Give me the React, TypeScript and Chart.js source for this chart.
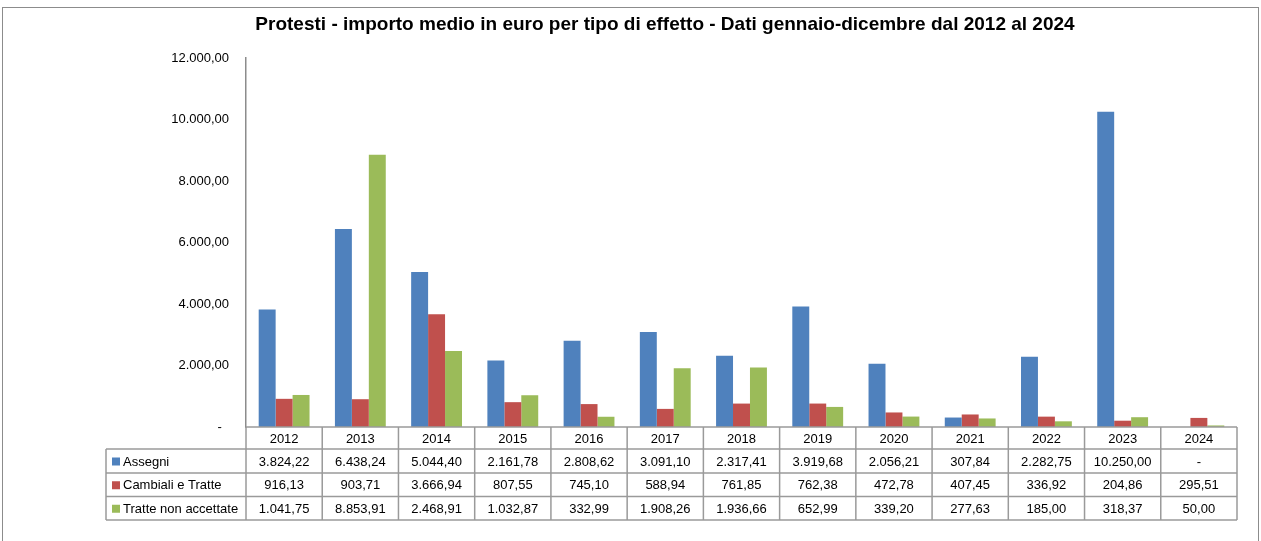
import React, { useEffect, useRef } from "react";
import { Chart, registerables } from "chart.js";

Chart.register(...registerables);

const years = ["2012", "2013", "2014", "2015", "2016", "2017", "2018", "2019", "2020", "2021", "2022", "2023", "2024"];
const assegni = [3824.22, 6438.24, 5044.4, 2161.78, 2808.62, 3091.1, 2317.41, 3919.68, 2056.21, 307.84, 2282.75, 10250.0, 0];
const cambiali = [916.13, 903.71, 3666.94, 807.55, 745.1, 588.94, 761.85, 762.38, 472.78, 407.45, 336.92, 204.86, 295.51];
const tratte = [1041.75, 8853.91, 2468.91, 1032.87, 332.99, 1908.26, 1936.66, 652.99, 339.2, 277.63, 185.0, 318.37, 50.0];
const seriesNames = ["Assegni", "Cambiali e Tratte", "Tratte non accettate"];
const seriesColors = ["#4F81BD", "#C0504D", "#9BBB59"];
const titleText = "Protesti - importo medio in euro per tipo di effetto - Dati gennaio-dicembre dal 2012 al 2024";

function fmt(v: number): string {
  if (v === 0) return "-";
  const [ip, dp] = v.toFixed(2).split(".");
  const g = ip.replace(/\B(?=(\d{3})+(?!\d))/g, ".");
  return g + "," + dp;
}

const FONT = "'Liberation Sans', Arial, sans-serif";

const framePlugin = {
  id: "frame",
  beforeDraw(chart: any) {
    const ctx = chart.ctx;
    ctx.save();
    ctx.fillStyle = "#ffffff";
    ctx.fillRect(0, 0, chart.width, chart.height);
    ctx.strokeStyle = "#8c8c8c";
    ctx.lineWidth = 1;
    ctx.strokeRect(2.5, 7.5, 1256, 540);
    ctx.fillStyle = "#000";
    ctx.font = "bold 19px " + FONT;
    ctx.textAlign = "center";
    ctx.textBaseline = "alphabetic";
    ctx.fillText(titleText, 665, 30);
    ctx.restore();
  },
};

const tablePlugin = {
  id: "datatable",
  afterDraw(chart: any) {
    const ctx = chart.ctx;
    const xs = chart.scales.x;
    const area = chart.chartArea;
    const left = area.left;
    const right = area.right;
    const n = years.length;
    const w = (right - left) / n;
    const top = area.bottom;
    const rowsY = [top, top + 22, top + 46, top + 69.5, top + 93];
    const labelLeft = 106;
    const data = [assegni, cambiali, tratte];
    ctx.save();
    ctx.strokeStyle = "#9a9a9a";
    ctx.lineWidth = 1.5;
    ctx.beginPath();
    ctx.moveTo(left, rowsY[0]);
    ctx.lineTo(right, rowsY[0]);
    for (let r = 1; r < rowsY.length; r++) {
      ctx.moveTo(labelLeft, rowsY[r]);
      ctx.lineTo(right, rowsY[r]);
    }
    ctx.moveTo(labelLeft, rowsY[1]);
    ctx.lineTo(labelLeft, rowsY[4]);
    for (let i = 0; i <= n; i++) {
      const x = left + i * w;
      ctx.moveTo(x, rowsY[0]);
      ctx.lineTo(x, rowsY[4]);
    }
    ctx.stroke();

    ctx.fillStyle = "#000";
    ctx.font = "13px " + FONT;
    ctx.textBaseline = "middle";
    ctx.textAlign = "center";
    for (let i = 0; i < n; i++) {
      const cx = xs.getPixelForValue(i);
      ctx.fillText(years[i], cx, (rowsY[0] + rowsY[1]) / 2 + 1);
      for (let s = 0; s < 3; s++) {
        ctx.fillText(fmt(data[s][i]), cx, (rowsY[s + 1] + rowsY[s + 2]) / 2 + 1);
      }
    }
    ctx.textAlign = "left";
    for (let s = 0; s < 3; s++) {
      const cy = (rowsY[s + 1] + rowsY[s + 2]) / 2;
      ctx.fillStyle = seriesColors[s];
      ctx.fillRect(112, cy - 3.5, 8, 8);
      ctx.fillStyle = "#000";
      ctx.fillText(seriesNames[s], 123, cy + 1);
    }
    ctx.restore();
  },
};

export default function App() {
  const ref = useRef<HTMLCanvasElement | null>(null);
  useEffect(() => {
    document.body.style.margin = "0";
    if (!ref.current) return;
    const chart = new Chart(ref.current, {
      type: "bar",
      data: {
        labels: years,
        datasets: [
          { label: seriesNames[0], data: assegni, backgroundColor: seriesColors[0] },
          { label: seriesNames[1], data: cambiali, backgroundColor: seriesColors[1] },
          { label: seriesNames[2], data: tratte, backgroundColor: seriesColors[2] },
        ],
      },
      options: {
        animation: false,
        responsive: false,
        maintainAspectRatio: false,
        layout: { padding: { top: 58, bottom: 541 - 427, left: 0, right: 1261 - 1237 } },
        datasets: { bar: { categoryPercentage: 0.667, barPercentage: 1, borderWidth: 0 } },
        plugins: { legend: { display: false }, title: { display: false }, tooltip: { enabled: false } },
        scales: {
          x: { display: false },
          y: {
            min: 0,
            max: 12000,
            afterFit: (s: any) => {
              s.width = 246;
            },
            grid: { display: false, drawTicks: false },
            border: { display: true, color: "#8c8c8c", width: 1.5 },
            ticks: {
              stepSize: 2000,
              padding: 17,
              color: "#000",
              font: { family: FONT, size: 13 },
              callback: (v: any) => (Number(v) === 0 ? "-  " : fmt(Number(v))),
            },
          },
        },
      },
      plugins: [framePlugin, tablePlugin],
    });
    return () => chart.destroy();
  }, []);
  return (
    <div style={{ width: 1261, height: 541 }}>
      <canvas ref={ref} width={1261} height={541} style={{ display: "block" }} />
    </div>
  );
}
